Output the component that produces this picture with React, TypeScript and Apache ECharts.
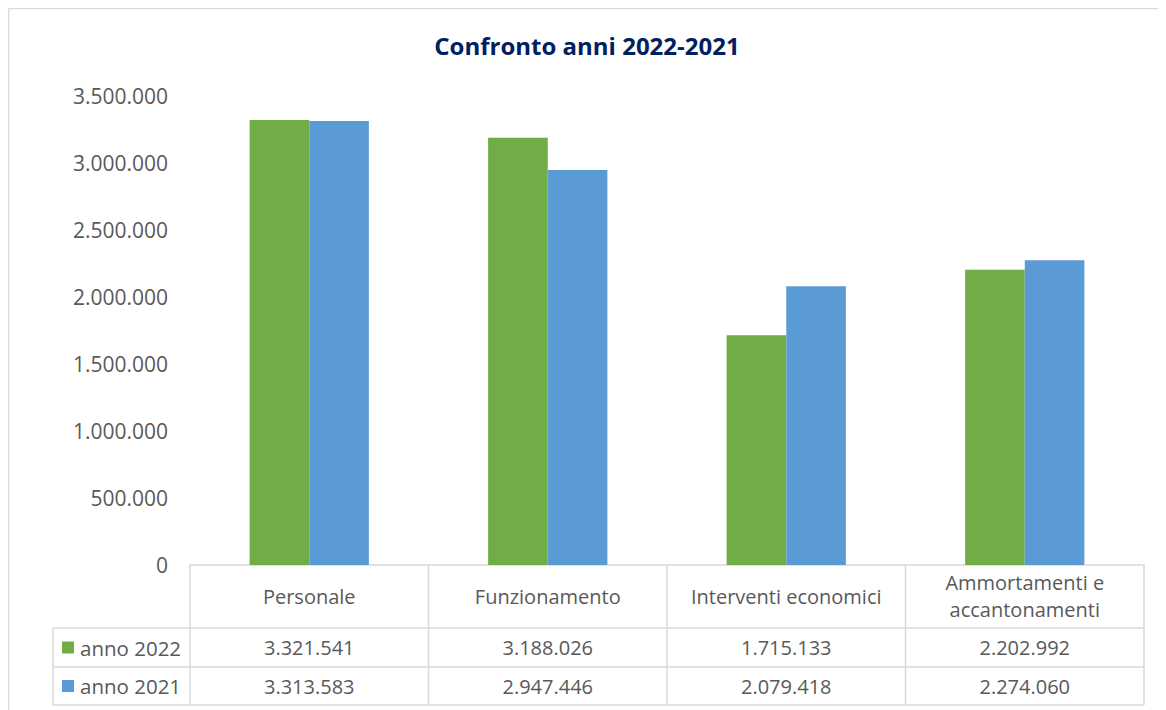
import React, { useEffect, useRef } from "react";
import * as echarts from "echarts";

const categories = ["Personale", "Funzionamento", "Interventi economici", "Ammortamenti e\naccantonamenti"];
const seriesNames = ["anno 2022", "anno 2021"];
const values2022 = [3321541, 3188026, 1715133, 2202992];
const values2021 = [3313583, 2947446, 2079418, 2274060];
const colors = ["#70AD47", "#5B9BD5"];
const yMax = 3500000;
const yInterval = 500000;

const fmt = (v: number) => String(Math.round(v)).replace(/\B(?=(\d{3})+(?!\d))/g, ".");

const W = 1158;
const H = 702;
const gridLeft = 182;
const gridRight = 1136;
const gridTop = 88;
const gridBottom = 557;
const row1Top = 620;
const row2Top = 659;
const tableBottom = 697;
const legendLeft = 45;
const lineColor = "#D9D9D9";
const textColor = "#595959";
const font = "Open Sans";

export default function App() {
  const ref = useRef<HTMLDivElement>(null);
  useEffect(() => {
    if (!ref.current) return;
    const chart = echarts.init(ref.current, null, { renderer: "svg" });
    const colW = (gridRight - gridLeft) / categories.length;
    const rows = [values2022, values2021];
    const rowTops = [row1Top, row2Top];
    const rowBottoms = [row2Top, tableBottom];
    const g: any[] = [];
    const line = (x1: number, y1: number, x2: number, y2: number) =>
      g.push({ type: "line", shape: { x1, y1, x2, y2 }, style: { stroke: lineColor, lineWidth: 1.5 }, silent: true });
    // outer chart border (top & left)
    line(0.5, 0.5, W, 0.5);
    line(0.5, 0.5, 0.5, H);
    // table horizontal lines
    line(legendLeft, row1Top, gridRight, row1Top);
    line(legendLeft, row2Top, gridRight, row2Top);
    line(legendLeft, tableBottom, gridRight, tableBottom);
    // vertical lines
    for (let i = 0; i <= categories.length; i++) {
      const x = gridLeft + i * colW;
      line(x, gridBottom, x, tableBottom);
    }
    line(legendLeft, row1Top, legendLeft, tableBottom);
    rows.forEach((vals, r) => {
      const cy = (rowTops[r] + rowBottoms[r]) / 2;
      g.push({ type: "rect", shape: { x: legendLeft + 9, y: cy - 6, width: 12, height: 12 }, style: { fill: colors[r] } });
      g.push({
        type: "text", x: legendLeft + 27, y: cy,
        style: { text: seriesNames[r], fill: textColor, font: `20.5px '${font}'`, textVerticalAlign: "middle", textAlign: "left" },
      });
      vals.forEach((v, c) => {
        g.push({
          type: "text", x: gridLeft + (c + 0.5) * colW, y: cy,
          style: { text: fmt(v), fill: textColor, font: `20px '${font}'`, textVerticalAlign: "middle", textAlign: "center" },
        });
      });
    });
    chart.setOption({
      animation: false,
      backgroundColor: "#fff",
      title: {
        text: "Confronto anni 2022-2021",
        left: "center",
        top: 20,
        textStyle: { color: "#002060", fontSize: 24, fontWeight: "bold", fontFamily: font },
      },
      grid: { left: gridLeft, top: gridTop, width: gridRight - gridLeft, height: gridBottom - gridTop, containLabel: false },
      xAxis: {
        type: "category",
        data: categories,
        axisLine: { show: true, lineStyle: { color: lineColor, width: 1.5 } },
        axisTick: { show: false },
        axisLabel: {
          interval: 0, margin: 31, color: textColor, fontSize: 20, fontFamily: font,
          verticalAlign: "middle", lineHeight: 27,
        },
      },
      yAxis: {
        type: "value",
        min: 0,
        max: yMax,
        interval: yInterval,
        axisLine: { show: false },
        axisTick: { show: false },
        splitLine: { show: false },
        axisLabel: { margin: 22, color: textColor, fontSize: 21, fontFamily: font, formatter: (v: number) => fmt(v) },
      },
      series: [
        { name: seriesNames[0], type: "bar", data: values2022, itemStyle: { color: colors[0] }, barGap: "0%", barCategoryGap: "50%" },
        { name: seriesNames[1], type: "bar", data: values2021, itemStyle: { color: colors[1] }, barGap: "0%", barCategoryGap: "50%" },
      ],
      graphic: g,
    });
    return () => chart.dispose();
  }, []);
  return <div ref={ref} style={{ width: W, height: H }} />;
}
